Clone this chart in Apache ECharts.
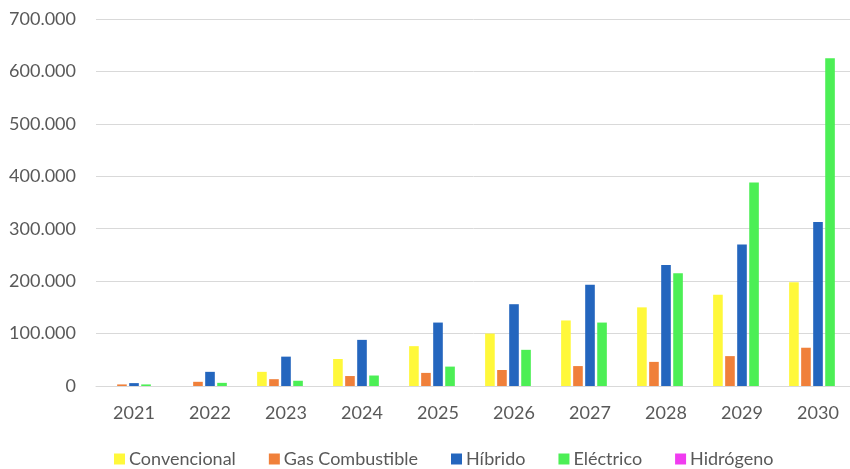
<!DOCTYPE html>
<html><head><meta charset="utf-8">
<script src="https://cdn.jsdelivr.net/npm/echarts@6/dist/echarts.min.js"></script>
<style>html,body{margin:0;padding:0;background:#fff}#c{width:850px;height:469px}</style>
</head><body><div id="c"></div>
<script>
const years = ['2021','2022','2023','2024','2025','2026','2027','2028','2029','2030'];
const convencional = [0, 0, 27000, 51500, 76000, 100000, 125000, 150000, 174000, 198000];
const gasCombustible = [3000, 8000, 13000, 19000, 25000, 30500, 38000, 46000, 57000, 73000];
const hibrido = [5500, 27000, 56000, 88000, 121000, 156000, 193000, 231000, 270000, 313000];
const electrico = [3000, 6000, 10000, 20000, 37000, 69000, 121000, 215000, 388000, 625000];
const hidrogeno = [0, 0, 0, 0, 0, 0, 0, 0, 0, 0];
const seriesNames = ['Convencional','Gas Combustible','Híbrido','Eléctrico','Hidrógeno'];
const colors = ['#FFF83A','#F0803A','#2466BE','#4CEF55','#F03CF0'];
const allData = [convencional, gasCombustible, hibrido, electrico, hidrogeno];

const font = 'Lato, "Open Sans", sans-serif';
const chart = echarts.init(document.getElementById('c'));
chart.setOption({
  animation: false,
  textStyle: {fontFamily: font},
  grid: {left: 96, width: 760, top: 19, height: 367, containLabel: false, outerBoundsMode: 'none'},
  legend: {
    top: 445, left: 109,
    itemWidth: 11, itemHeight: 11, itemGap: 33,
    icon: 'rect',
    textStyle: {fontSize: 18, color: '#595959', fontFamily: font, padding: [0, 0, 0, -1]},
    data: seriesNames
  },
  xAxis: {
    type: 'category', data: years,
    axisTick: {show: false},
    axisLine: {lineStyle: {color: '#d9d9d9'}},
    axisLabel: {fontSize: 18, color: '#595959', margin: 18, fontFamily: font}
  },
  yAxis: {
    type: 'value', min: 0, max: 700000, interval: 100000,
    axisLabel: {fontSize: 18, color: '#595959', margin: 20, fontFamily: font,
      formatter: v => v === 0 ? '0' : v.toString().replace(/\B(?=(\d{3})+(?!\d))/g, '.')},
    splitLine: {lineStyle: {color: '#d9d9d9', width: 1}},
    axisLine: {show: false}, axisTick: {show: false}
  },
  series: seriesNames.map((n, i) => ({
    name: n, type: 'bar', data: allData[i],
    itemStyle: {color: colors[i]},
    barGap: '25%', barCategoryGap: '24%'
  }))
});
</script></body></html>
